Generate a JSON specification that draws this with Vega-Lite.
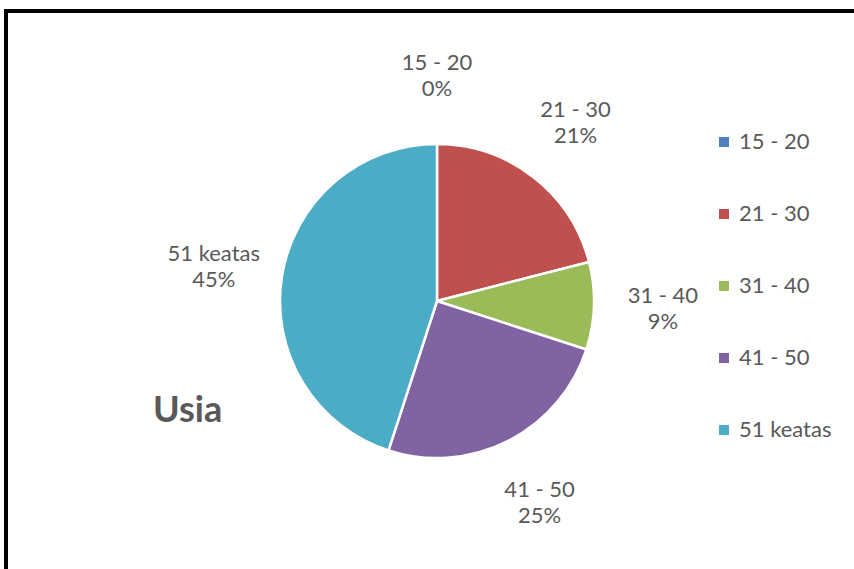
{
  "$schema": "https://vega.github.io/schema/vega-lite/v6.json",
  "width": 862,
  "height": 580,
  "autosize": "none",
  "padding": {"left": 6, "top": 11, "right": -14, "bottom": -22},
  "background": "white",
  "view": {"stroke": "black", "strokeWidth": 4, "fill": "white"},
  "config": {"view": {"stroke": "black", "strokeWidth": 4}, "font": "Lato"},
  "title": {"text": "Usia", "anchor": "start", "frame": "group", "orient": "top", "dx": 147, "dy": 423, "fontSize": 36, "fontWeight": "bold", "color": "#595959", "font": "Lato"},
  "data": {"values": [
    {"usia": "15 - 20", "persen": 0},
    {"usia": "21 - 30", "persen": 0.21},
    {"usia": "31 - 40", "persen": 0.09},
    {"usia": "41 - 50", "persen": 0.25},
    {"usia": "51 keatas", "persen": 0.45}
  ]},
  "encoding": {
    "theta": {"field": "persen", "type": "quantitative", "stack": true},
    "order": {"field": "usia", "type": "ordinal", "sort": "ascending"}
  },
  "layer": [
    {
      "mark": {"type": "arc", "outerRadius": 157, "stroke": "white", "strokeWidth": 2.5},
      "encoding": {
        "color": {
          "field": "usia", "type": "nominal",
          "scale": {"domain": ["15 - 20", "21 - 30", "31 - 40", "41 - 50", "51 keatas"], "range": ["#4F81BD", "#C0504D", "#9BBB59", "#8064A2", "#4BACC6"]},
          "legend": {"orient": "none", "legendX": 707, "legendY": 120, "title": null, "symbolType": "square", "symbolSize": 100, "symbolStrokeWidth": 0, "labelFontSize": 22, "labelColor": "#595959", "labelFont": "Lato", "rowPadding": 50, "padding": 0}
        }
      }
    },
    {
      "mark": {"type": "text", "radius": 226, "dy": -12, "fontSize": 22, "fill": "#595959", "font": "Lato"},
      "encoding": {"detail": {"field": "usia", "type": "nominal"}, "text": {"field": "usia", "type": "nominal"}}
    },
    {
      "mark": {"type": "text", "radius": 226, "dy": 14, "fontSize": 22, "fill": "#595959", "font": "Lato"},
      "encoding": {"detail": {"field": "usia", "type": "nominal"}, "text": {"field": "persen", "type": "quantitative", "format": ".0%"}}
    }
  ]
}
